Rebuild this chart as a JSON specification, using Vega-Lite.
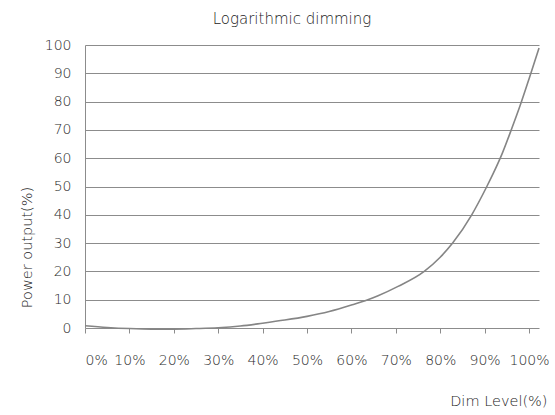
{
  "$schema": "https://vega.github.io/schema/vega-lite/v6.json",
  "width": 454,
  "height": 283,
  "autosize": {"type": "none"},
  "padding": {"left": 85, "top": 45, "right": 16, "bottom": 87},
  "background": "white",
  "title": {"text": "Logarithmic dimming", "fontSize": 15, "font": "DejaVu Sans", "fontWeight": 300, "color": "#222222", "offset": 11, "anchor": "middle", "dx": -20},
  "config": {"view": {"stroke": null}, "font": "DejaVu Sans"},
  "data": {"values": [
    {"dim": 0, "power": 0.8},
    {"dim": 5, "power": 0.2},
    {"dim": 10, "power": -0.2},
    {"dim": 15, "power": -0.4},
    {"dim": 20, "power": -0.4},
    {"dim": 25, "power": -0.2},
    {"dim": 30, "power": 0.1},
    {"dim": 35, "power": 0.7},
    {"dim": 40, "power": 1.7},
    {"dim": 45, "power": 2.8},
    {"dim": 50, "power": 4.1},
    {"dim": 55, "power": 5.8},
    {"dim": 60, "power": 8.1},
    {"dim": 63.7, "power": 10},
    {"dim": 66, "power": 11.4},
    {"dim": 70.5, "power": 14.7},
    {"dim": 76.4, "power": 20},
    {"dim": 80, "power": 25},
    {"dim": 82.8, "power": 30},
    {"dim": 87.1, "power": 40},
    {"dim": 90.5, "power": 50},
    {"dim": 92, "power": 54.8},
    {"dim": 94, "power": 61.8},
    {"dim": 96, "power": 70},
    {"dim": 98, "power": 78.6},
    {"dim": 100, "power": 88},
    {"dim": 102.25, "power": 98.9}
  ]},
  "mark": {"type": "line", "color": "#858585", "strokeWidth": 1.6, "interpolate": "monotone"},
  "encoding": {
    "x": {
      "field": "dim", "type": "quantitative",
      "scale": {"domain": [0, 102.25], "nice": false, "zero": false},
      "axis": {
        "values": [0, 10, 20, 30, 40, 50, 60, 70, 80, 90, 100],
        "labelExpr": "datum.value + '%'",
        "grid": false, "domain": false,
        "ticks": true, "tickSize": 5, "tickColor": "#8c8c8c", "tickWidth": 1,
        "labelPadding": 20, "labelFontSize": 14, "labelColor": "#2a2a2a", "labelFont": "DejaVu Sans", "labelFontWeight": 300,
        "encode": {"labels": {"update": {"dx": {"signal": "datum.value === 0 ? 7 : 0"}}}},
        "title": "Dim Level(%)", "titleFontSize": 14.5, "titleFontWeight": 300, "titleColor": "#222222", "titleFont": "DejaVu Sans",
        "titleX": 462, "titleY": 73, "titleAlign": "right", "titleBaseline": "middle"
      }
    },
    "y": {
      "field": "power", "type": "quantitative",
      "scale": {"domain": [0, 100], "nice": false, "zero": false},
      "axis": {
        "values": [0, 10, 20, 30, 40, 50, 60, 70, 80, 90, 100],
        "grid": true, "gridColor": "#8c8c8c", "gridWidth": 1, "gridOpacity": 1,
        "domain": true, "domainColor": "#8c8c8c", "domainWidth": 1,
        "ticks": false, "labelPadding": 14,
        "labelFontSize": 14, "labelColor": "#2a2a2a", "labelFont": "DejaVu Sans", "labelFontWeight": 300,
        "title": "Power output(%)", "titleFontSize": 14.5, "titleFontWeight": 300, "titleColor": "#222222", "titleFont": "DejaVu Sans",
        "titleX": -58, "titleY": 202, "titleAngle": 270, "titleAlign": "center", "titleBaseline": "middle"
      }
    }
  }
}
